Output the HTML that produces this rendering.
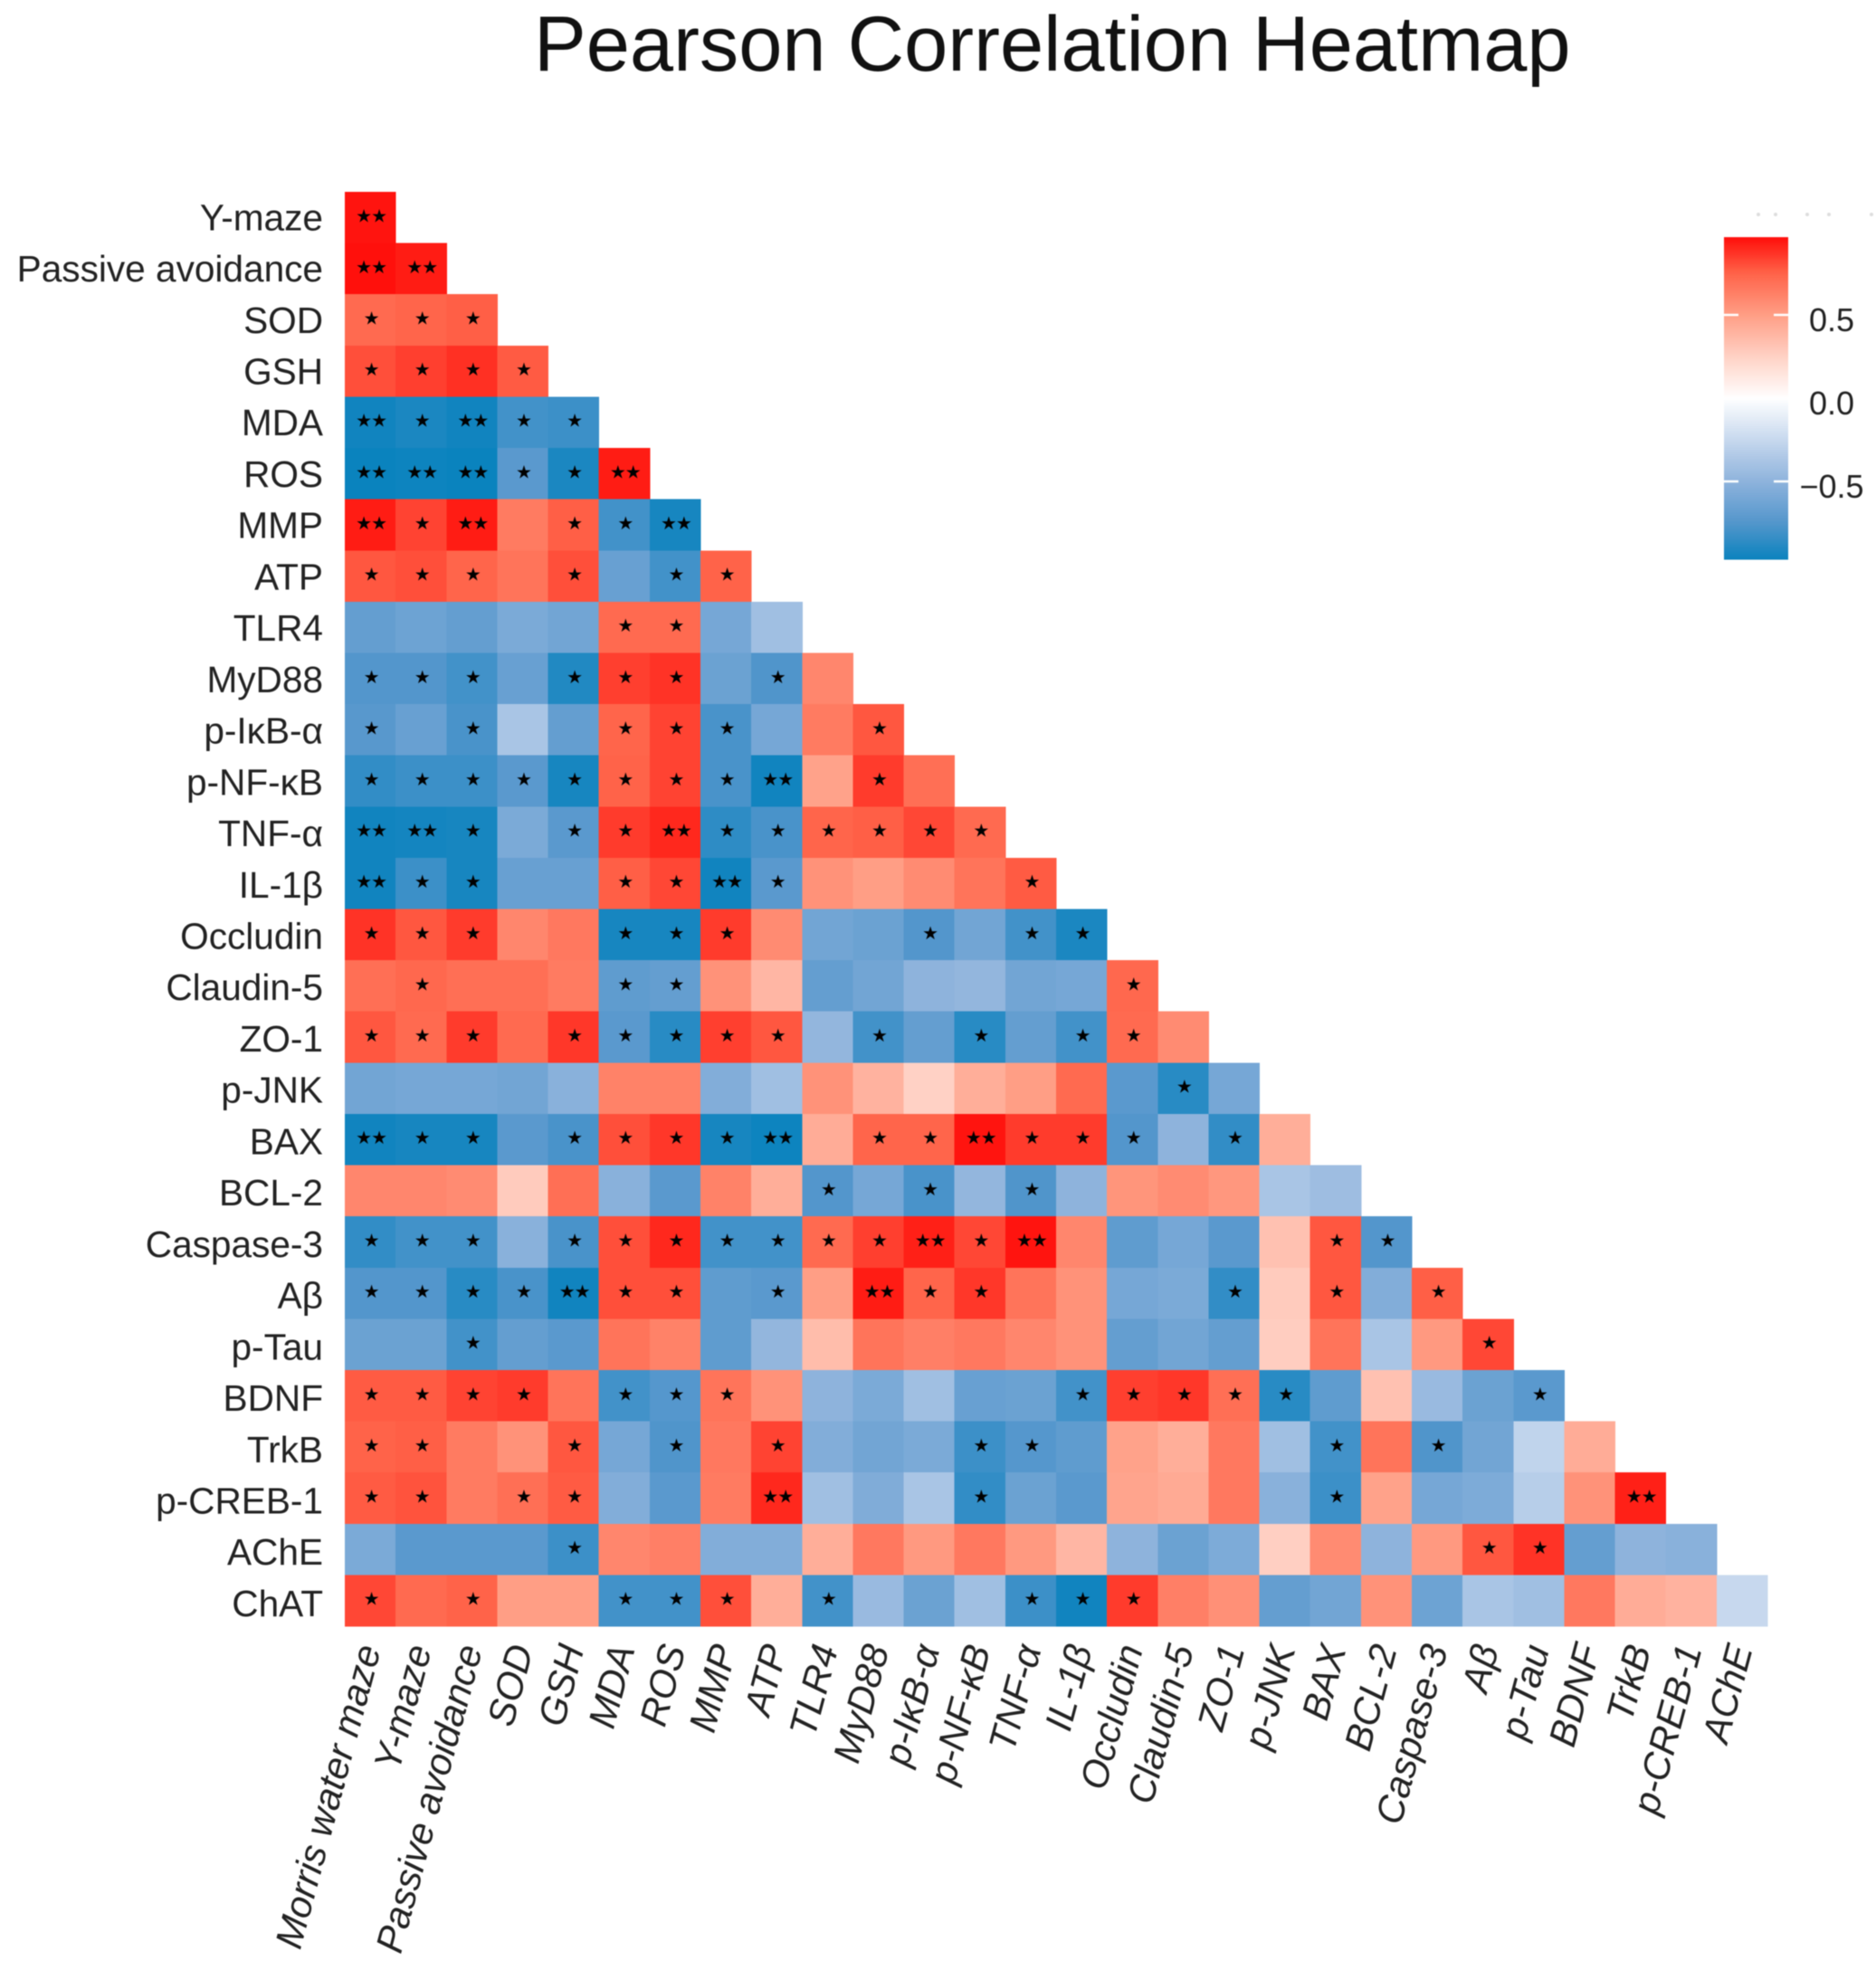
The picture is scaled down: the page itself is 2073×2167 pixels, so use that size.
<!DOCTYPE html>
<html lang="en">
<head>
<meta charset="utf-8">
<title>Pearson Correlation Heatmap</title>
<style>
html,body{margin:0;padding:0;background:#fff;width:2073px;height:2167px;overflow:hidden}
svg{display:block;filter:blur(0.6px)}
text{font-family:"Liberation Sans",sans-serif}
.stars{font-family:"DejaVu Sans",sans-serif;font-size:20px;fill:#000;text-anchor:middle;letter-spacing:-1px}
.ylab{font-size:40.6px;fill:#222;text-anchor:end}
.xlab{font-size:42px;fill:#222;text-anchor:end;font-style:italic}
.leg{font-size:36px;fill:#222;text-anchor:middle}
</style>
</head>
<body>
<svg id="chart" xmlns="http://www.w3.org/2000/svg" width="2073" height="2167" viewBox="0 0 2073 2167">
  <rect x="0" y="0" width="2073" height="2167" fill="#ffffff"/>
  <text x="590" y="78" font-size="86.6" fill="#111">Pearson Correlation Heatmap</text>
  <defs>
    <linearGradient id="legendGradient" x1="0" y1="0" x2="0" y2="1"></linearGradient>
  </defs>
  <g id="cells" shape-rendering="crispEdges"></g>
  <g id="sig"></g>
  <g id="ylabels"></g>
  <g id="xlabels"></g>
  <g id="legend"></g>
  <g fill="#dddddd">
    <circle cx="1943" cy="237" r="2"/>
    <circle cx="1962" cy="237" r="2"/>
    <circle cx="1997" cy="237" r="2"/>
    <circle cx="2021" cy="237" r="2"/>
    <circle cx="2068" cy="237" r="2"/>
  </g>
</svg>
<script>
const rowLabels = ["Y-maze","Passive avoidance","SOD","GSH","MDA","ROS","MMP","ATP","TLR4","MyD88","p-IκB-α","p-NF-κB","TNF-α","IL-1β","Occludin","Claudin-5","ZO-1","p-JNK","BAX","BCL-2","Caspase-3","Aβ","p-Tau","BDNF","TrkB","p-CREB-1","AChE","ChAT"];
const colLabels = ["Morris water maze","Y-maze","Passive avoidance","SOD","GSH","MDA","ROS","MMP","ATP","TLR4","MyD88","p-IκB-α","p-NF-κB","TNF-α","IL-1β","Occludin","Claudin-5","ZO-1","p-JNK","BAX","BCL-2","Caspase-3","Aβ","p-Tau","BDNF","TrkB","p-CREB-1","AChE"];
const correlations = [
[.95],
[.96,.93],
[.72,.74,.76],
[.8,.84,.88,.77],
[-.95,-.92,-.95,-.8,-.82],
[-.97,-.96,-.97,-.72,-.92,.93],
[.93,.83,.93,.65,.76,-.8,-.93],
[.78,.8,.74,.68,.8,-.66,-.8,.75],
[-.68,-.64,-.68,-.58,-.62,.72,.72,-.6,-.42],
[-.75,-.75,-.8,-.66,-.9,.84,.87,-.65,-.76,.6],
[-.73,-.66,-.78,-.38,-.68,.74,.83,-.78,-.6,.65,.78],
[-.85,-.82,-.82,-.72,-.93,.75,.83,-.78,-.95,.48,.85,.7],
[-.95,-.94,-.93,-.58,-.72,.85,.9,-.86,-.78,.74,.76,.82,.72],
[-.95,-.82,-.93,-.66,-.66,.76,.82,-.95,-.72,.55,.5,.58,.68,.77],
[.87,.78,.85,.6,.66,-.93,-.93,.85,.58,-.62,-.65,-.75,-.62,-.8,-.92],
[.7,.73,.7,.7,.65,-.7,-.68,.55,.38,-.68,-.62,-.5,-.48,-.62,-.6,.73],
[.78,.72,.85,.72,.86,-.72,-.88,.84,.78,-.48,-.8,-.68,-.88,-.68,-.8,.72,.58],
[-.62,-.6,-.6,-.62,-.52,.62,.62,-.55,-.42,.55,.4,.25,.42,.5,.72,-.72,-.88,-.6],
[-.95,-.93,-.93,-.72,-.78,.8,.86,-.93,-.96,.43,.74,.74,.95,.85,.85,-.75,-.5,-.85,.42],
[.6,.6,.58,.28,.7,-.52,-.72,.62,.42,-.75,-.6,-.78,-.48,-.76,-.5,.54,.58,.53,-.38,-.43],
[-.85,-.8,-.8,-.52,-.78,.8,.9,-.8,-.8,.72,.84,.92,.82,.95,.6,-.7,-.6,-.72,.33,.78,-.75],
[-.75,-.75,-.88,-.78,-.95,.8,.8,-.7,-.72,.5,.93,.74,.86,.68,.55,-.6,-.58,-.85,.28,.78,-.55,.76],
[-.65,-.65,-.8,-.68,-.72,.68,.62,-.7,-.48,.35,.68,.63,.66,.6,.55,-.68,-.62,-.68,.27,.68,-.38,.52,.82],
[.77,.77,.83,.85,.68,-.8,-.74,.68,.55,-.5,-.58,-.42,-.66,-.65,-.8,.84,.86,.7,-.88,-.7,.33,-.45,-.65,-.72],
[.75,.76,.65,.55,.78,-.6,-.76,.66,.83,-.55,-.62,-.58,-.82,-.74,-.7,.48,.42,.66,-.42,-.8,.68,-.76,-.62,-.28,.43],
[.77,.79,.65,.7,.77,-.55,-.72,.65,.9,-.42,-.56,-.38,-.85,-.65,-.72,.47,.44,.66,-.52,-.82,.48,-.6,-.57,-.32,.55,.92],
[-.58,-.72,-.72,-.72,-.82,.6,.63,-.55,-.55,.42,.66,.52,.66,.52,.38,-.5,-.65,-.57,.26,.58,-.5,.52,.78,.87,-.68,-.5,-.52],
[.82,.72,.75,.5,.5,-.8,-.8,.8,.42,-.8,-.45,-.65,-.42,-.82,-.95,.85,.63,.56,-.68,-.62,.55,-.64,-.38,-.42,.66,.43,.4,-.25]
];
const significance = [
"2","22","111","1111","21211","222112","2120112","11101011","000001100","1110111010",
"10100111001","111111112010","2210112111111","21100112100001","111001110001011",
"0100011000000001","11101111101010110","000000000000000010","2110111120112111010",
"00000000010101000000","111011111112120000011","1111211010211000010101",
"00100000000000000000001","111101110000001111100001","1100101010001100000101000",
"11011000200010000001000002","000010000000000000000011000","1010011101000111000000000000"
];
const legendTicks = [0.5, 0, -0.5];
const legendLabels = ["0.5","0.0","−0.5"];
const legendRange = [0.967, -0.97];
const redRamp = ["#ffffff","#ffd1c5","#ff9e85","#ff6349","#ff0000"];
const blueRamp = ["#ffffff","#c7d8ee","#8eb3dc","#5396cc","#0080bc"];

const NS = "http://www.w3.org/2000/svg";
const plotLeft = 381, plotTop = 212, plotWidth = 1572, plotHeight = 1585;
const bandW = plotWidth / colLabels.length;
const bandH = plotHeight / rowLabels.length;
const xBand = i => plotLeft + i * bandW;
const yBand = j => plotTop + j * bandH;
const legendY = v => 440 - v * 184;

function hexToRgb(h){return [1,3,5].map(k=>parseInt(h.substr(k,2),16));}
function colorFor(v){
  const ramp = v >= 0 ? redRamp : blueRamp;
  const t = Math.min(1, Math.abs(v)) * (ramp.length - 1);
  const k = Math.min(ramp.length - 2, Math.floor(t));
  const f = t - k;
  const a = hexToRgb(ramp[k]), b = hexToRgb(ramp[k + 1]);
  const c = a.map((x, n) => Math.round(x + (b[n] - x) * f));
  return "rgb(" + c.join(",") + ")";
}
function mk(tag, attrs, parent){
  const el = document.createElementNS(NS, tag);
  for (const k in attrs) el.setAttribute(k, attrs[k]);
  parent.appendChild(el);
  return el;
}

const cellsG = document.getElementById("cells");
const sigG = document.getElementById("sig");
correlations.forEach((row, j) => {
  row.forEach((v, i) => {
    const r = mk("rect", {x: xBand(i), y: yBand(j), width: bandW + 0.5, height: bandH + 0.5, fill: colorFor(v)}, cellsG);
    
    
    const n = +significance[j][i];
    if (n > 0) {
      const s = mk("text", {x: xBand(i) + bandW / 2 + 1, y: yBand(j) + bandH / 2 + 5, class: "stars"}, sigG);
      s.textContent = "★".repeat(n);
      
      
    }
  });
});

const yG = document.getElementById("ylabels");
rowLabels.forEach((name, j) => {
  const t = mk("text", {x: 357, y: yBand(j) + bandH / 2 + 14 + j * 0.12, class: "ylab"}, yG);
  t.textContent = name;
  
  
});

const xG = document.getElementById("xlabels");
colLabels.forEach((name, i) => {
  const px = xBand(i) + bandW / 2 + 12, py = 1822;
  const t = mk("text", {transform: "translate(" + px + "," + py + ") rotate(-75)", class: "xlab"}, xG);
  t.textContent = name;
  
  
});

const grad = document.getElementById("legendGradient");
for (let s = 0; s <= 60; s++) {
  const f = s / 60;
  const v = legendRange[0] + (legendRange[1] - legendRange[0]) * f;
  mk("stop", {offset: f, "stop-color": colorFor(v)}, grad);
}
const lg = document.getElementById("legend");
const barX = 1905, barW = 71, tickLen = 16;
const bar = mk("rect", {x: barX, y: legendY(legendRange[0]), width: barW, height: legendY(legendRange[1]) - legendY(legendRange[0]), fill: "url(#legendGradient)"}, lg);


legendTicks.forEach((v, k) => {
  const y = legendY(v);
  if (v !== 0) {
    const a = mk("line", {x1: barX, x2: barX + tickLen, y1: y, y2: y, stroke: "#fff", "stroke-width": 2.5}, lg);
    
    
    const b = mk("line", {x1: barX + barW - tickLen, x2: barX + barW, y1: y, y2: y, stroke: "#fff", "stroke-width": 2.5}, lg);
    
    
  }
  const t = mk("text", {x: 2024, y: y + 18, class: "leg"}, lg);
  t.textContent = legendLabels[k];
  
  
});
</script>
</body>
</html>
